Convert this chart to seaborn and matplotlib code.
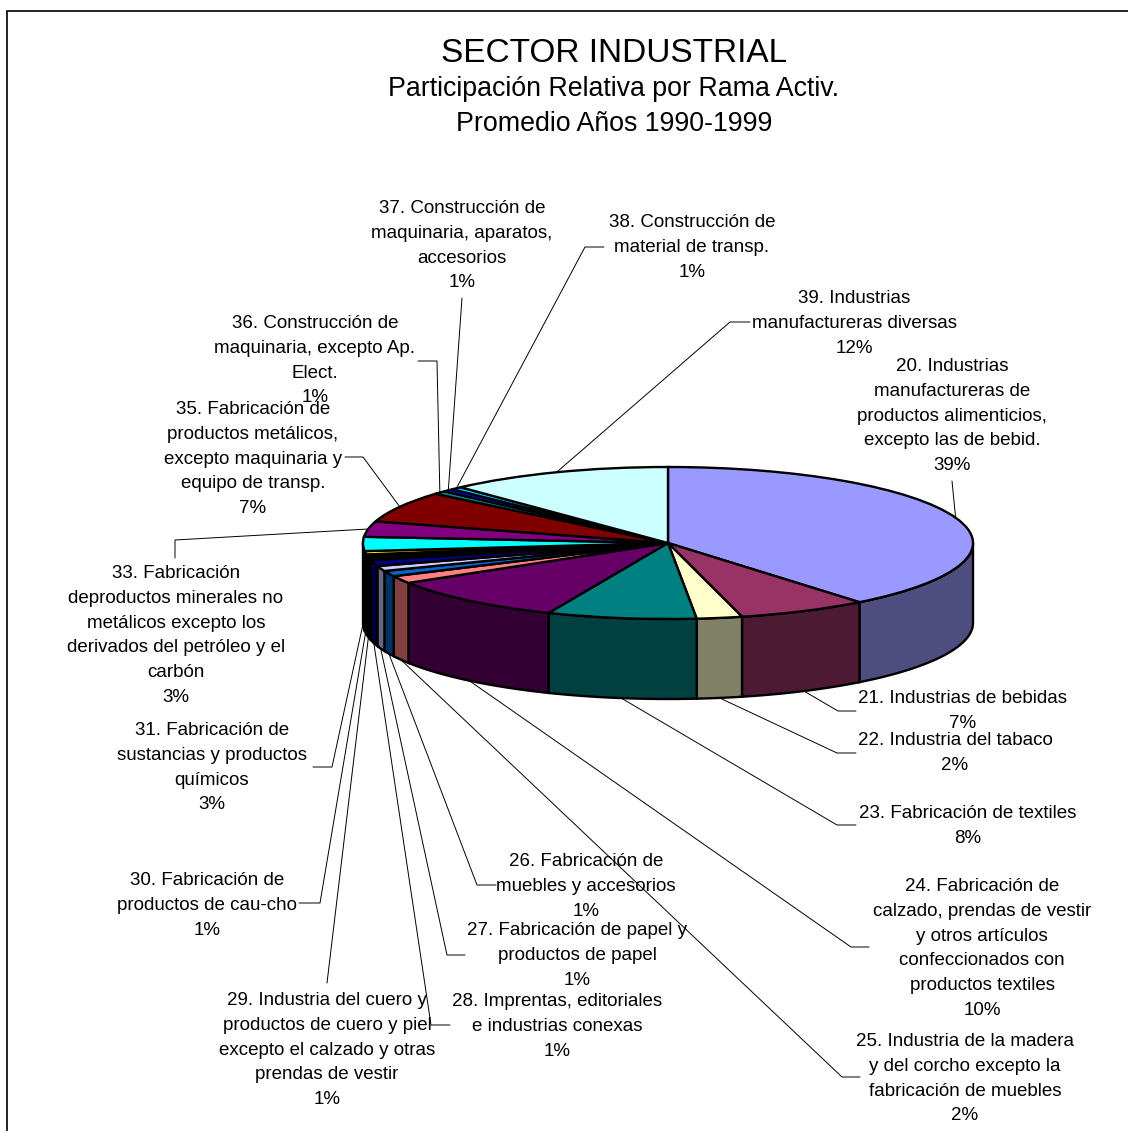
import numpy as np
import matplotlib
matplotlib.use("Agg")
import matplotlib.pyplot as plt
from matplotlib.colors import to_rgb
import seaborn as sns

################################
############ DATA ##############
################################

ramas = [
    "20. Industrias\nmanufactureras de\nproductos alimenticios,\nexcepto las de bebid.",
    "21. Industrias de bebidas",
    "22. Industria del tabaco",
    "23. Fabricación de textiles",
    "24. Fabricación de\ncalzado, prendas de vestir\ny otros artículos\nconfeccionados con\nproductos textiles",
    "25. Industria de la madera\ny del corcho excepto la\nfabricación de muebles",
    "26. Fabricación de\nmuebles y accesorios",
    "27. Fabricación de papel y\nproductos de papel",
    "28. Imprentas, editoriales\ne industrias conexas",
    "29. Industria del cuero y\nproductos de cuero y piel\nexcepto el calzado y otras\nprendas de vestir",
    "30. Fabricación de\nproductos de cau-cho",
    "31. Fabricación de\nsustancias y productos\nquímicos",
    "33. Fabricación\ndeproductos minerales no\nmetálicos excepto los\nderivados del petróleo y el\ncarbón",
    "35. Fabricación de\nproductos metálicos,\nexcepto maquinaria y\nequipo de transp.",
    "36. Construcción de\nmaquinaria, excepto Ap.\nElect.",
    "37. Construcción de\nmaquinaria, aparatos,\naccesorios",
    "38. Construcción de\nmaterial de transp.",
    "39. Industrias\nmanufactureras diversas",
]

# average share 1990-1999 (%)
participacion = [39.2, 6.9, 2.4, 7.9, 9.8, 1.6, 1.2, 1.1, 1.3, 1.2,
                 0.7, 3.0, 3.3, 6.6, 0.7, 0.6, 0.6, 11.9]

titulo = "SECTOR INDUSTRIAL"
subtitulo = ["Participación Relativa por Rama Activ.", "Promedio Años 1990-1999"]

################################
############ STYLE #############
################################

top_colors = ["#9999FF", "#993366", "#FFFFCC", "#008080", "#660066", "#FF8080",
              "#0066CC", "#CCCCFF", "#000080", "#000000", "#FFFF00", "#00FFFF",
              "#800080", "#800000", "#008080", "#0000FF", "#00CCFF", "#CCFFFF"]

# canvas in pixels
W, H = 1128, 1131
CX, CY, RX, RY, DEPTH = 668, 543, 305, 76, 80

# label position: centre x, centre of first text line y
label_pos = [(952, 366), (963, 698), (955, 740), (968, 813), (982, 886),
             (965, 1041), (586, 861), (577, 930), (557, 1001), (327, 1000),
             (207, 880), (212, 730), (176, 573), (253, 409), (315, 323),
             (462, 208), (692, 222), (854, 298)]

# leader line points after the anchor on the pie
leaders = [[(952, 481)],
           [(838, 711), (856, 711)],
           [(837, 753), (856, 753)],
           [(837, 825), (856, 825)],
           [(851, 947), (869, 947)],
           [(842, 1077), (860, 1077)],
           [(477, 885), (496, 885)],
           [(447, 955), (465, 955)],
           [(431, 1025), (450, 1025)],
           [(327, 983)],
           [(320, 903), (299, 903)],
           [(332, 767), (313, 767)],
           [(175, 540), (175, 558)],
           [(363, 457), (345, 457)],
           [(437, 361), (418, 361)],
           [(462, 298)],
           [(585, 247), (604, 247)],
           [(730, 322), (750, 322)]]

label_fs = 13.5
line_sp = 1.6

sns.set_theme(style="white")
plt.rcParams["font.family"] = ["Liberation Sans", "DejaVu Sans"]
plt.rcParams["text.color"] = "black"

fig = plt.figure(figsize=(W / 100, H / 100), dpi=100, facecolor="white")

################################
########## 3D PIE ##############
################################

pad = 0.08
dz = DEPTH / RY
pax = fig.add_axes([(CX - RX * (1 + pad)) / W,
                    (H - CY - RY * (1 + dz + pad)) / H,
                    2 * RX * (1 + pad) / W,
                    RY * (2 + dz + 2 * pad) / H])

wedges, _ = pax.pie(participacion, colors=top_colors, startangle=90,
                    counterclock=False,
                    wedgeprops=dict(edgecolor="black", linewidth=1.7, zorder=3))
pax.set_aspect("auto")
pax.set_xlim(-(1 + pad), 1 + pad)
pax.set_ylim(-(1 + dz + pad), 1 + pad)
pax.axis("off")

# side wall for the front half of each slice
for w, c in zip(wedges, top_colors):
    lo = max(w.theta1, -180)
    hi = min(w.theta2, 0)
    if lo >= hi:
        continue
    t = np.radians(np.linspace(lo, hi, 80))
    xs = np.r_[np.cos(t), np.cos(t[::-1])]
    ys = np.r_[np.sin(t), np.sin(t[::-1]) - dz]
    side = tuple(np.array(to_rgb(c)) * 0.5)
    pax.fill(xs, ys, facecolor=side, edgecolor="black", linewidth=1.7,
             zorder=1, clip_on=False)

################################
########## LABELS ##############
################################

ov = fig.add_axes([0, 0, 1, 1])
ov.set_xlim(0, W)
ov.set_ylim(H, 0)
ov.axis("off")
ov.set_facecolor("none")

# chart frame (left and top edges visible)
ov.plot([7, 7, W], [H, 11, 11], color="black", lw=1.2, solid_joinstyle="miter")

ov.text(614, 62, titulo, fontsize=24, ha="center", va="baseline")
ov.text(614, 96, subtitulo[0], fontsize=19.3, ha="center", va="baseline")
ov.text(614, 131, subtitulo[1], fontsize=19.3, ha="center", va="baseline")

total = sum(participacion)
for w, name, v, (lx, ly), pts in zip(wedges, ramas, participacion, label_pos, leaders):
    m = np.radians((w.theta1 + w.theta2) / 2)
    ax_ = CX + RX * np.cos(m)
    ay_ = CY - RY * np.sin(m)
    if np.sin(m) < 0:
        ay_ += DEPTH
    px = [ax_] + [p[0] for p in pts]
    py = [ay_] + [p[1] for p in pts]
    ov.plot(px, py, color="black", lw=0.7)
    pct = f"{round(v / total * 100):.0f}%"
    ov.text(lx, ly - 8, name + "\n" + pct, fontsize=label_fs, ha="center",
            va="top", multialignment="center", linespacing=line_sp)

plt.savefig("out.png", dpi=100, facecolor="white")
plt.close()
